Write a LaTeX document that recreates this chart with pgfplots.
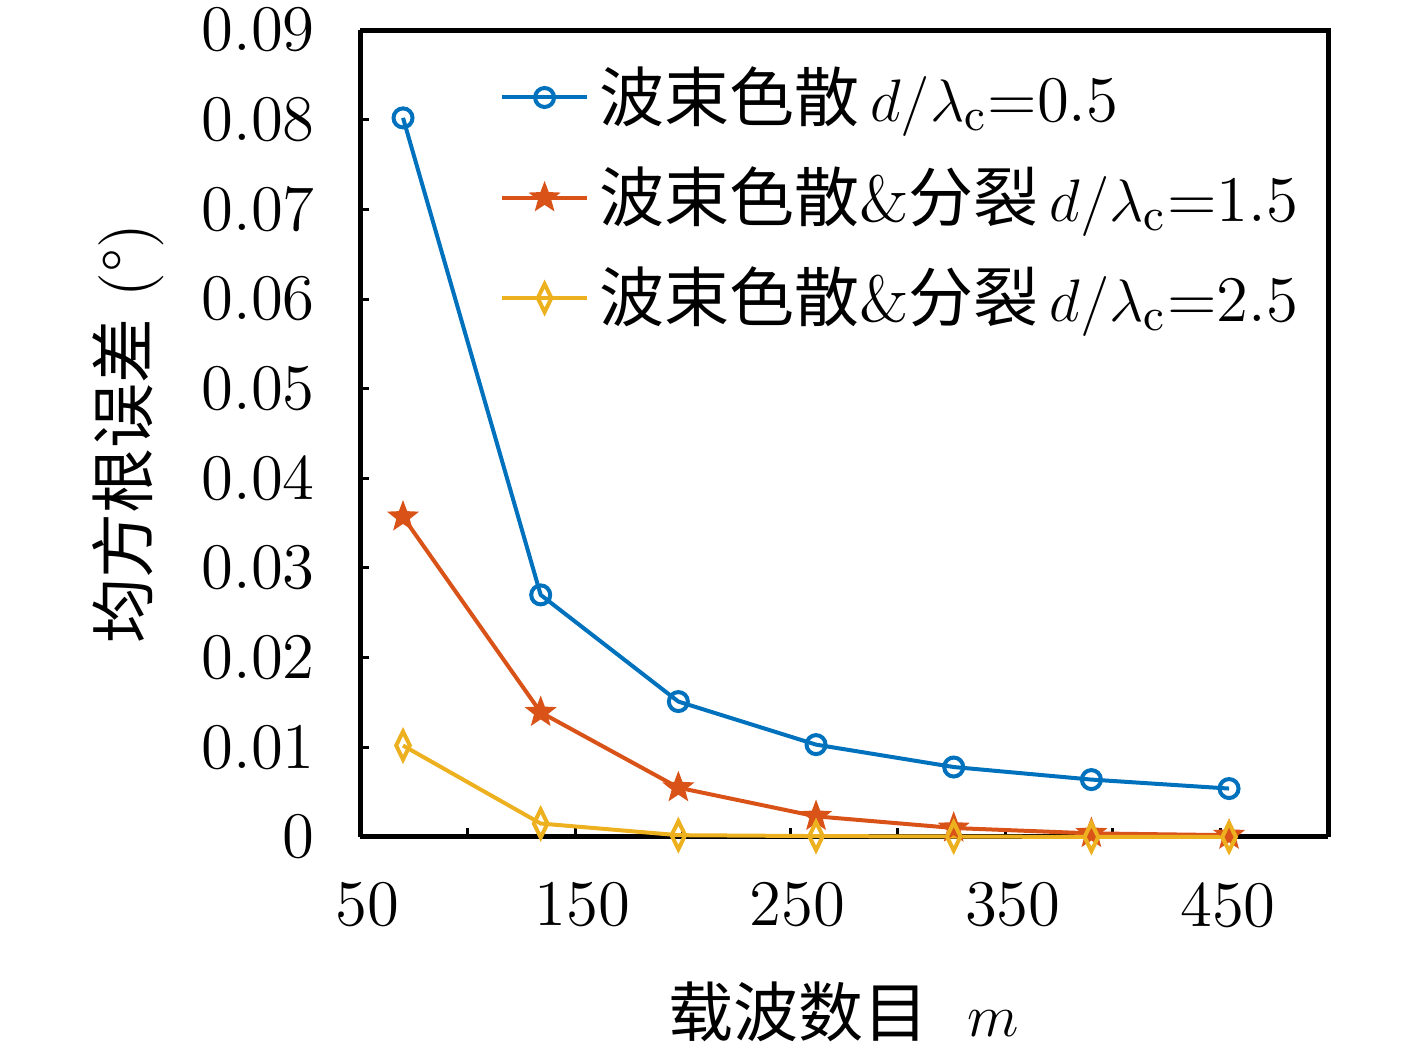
\documentclass[border=0pt]{standalone}
\usepackage{fontspec}
\usepackage{pgfplots}
\pgfplotsset{compat=1.18}
\newfontfamily\cjk{Noto Sans CJK SC}
\definecolor{mblue}{HTML}{0072BD}
\definecolor{mred}{HTML}{D95319}
\definecolor{myellow}{HTML}{EDB120}
\pgfdeclareplotmark{fstar}{%
  \pgfpathmoveto{\pgfpointpolar{90}{1\pgfplotmarksize}}%
  \pgfpathlineto{\pgfpointpolar{126}{0.42\pgfplotmarksize}}%
  \pgfpathlineto{\pgfpointpolar{162}{1\pgfplotmarksize}}%
  \pgfpathlineto{\pgfpointpolar{198}{0.42\pgfplotmarksize}}%
  \pgfpathlineto{\pgfpointpolar{234}{1\pgfplotmarksize}}%
  \pgfpathlineto{\pgfpointpolar{270}{0.42\pgfplotmarksize}}%
  \pgfpathlineto{\pgfpointpolar{306}{1\pgfplotmarksize}}%
  \pgfpathlineto{\pgfpointpolar{342}{0.42\pgfplotmarksize}}%
  \pgfpathlineto{\pgfpointpolar{18}{1\pgfplotmarksize}}%
  \pgfpathlineto{\pgfpointpolar{54}{0.42\pgfplotmarksize}}%
  \pgfpathclose
  \pgfusepathqfillstroke}
\newcommand{\fs}{\fontsize{13}{15.6}\selectfont}
\begin{document}
\begin{tikzpicture}
\useasboundingbox (0,0) rectangle (283.4pt,210.2pt);
\begin{axis}[
  at={(72pt,42.8pt)}, anchor=south west,
  scale only axis, width=193.6pt, height=161.4pt,
  xmin=50, xmax=500, ymin=0, ymax=0.09,
  axis line style={line width=1pt},
  xtick={50,100,...,450},
  xticklabels={50,,150,,250,,350,,450},
  ytick={0,0.01,...,0.09},
  yticklabels={0,0.01,0.02,0.03,0.04,0.05,0.06,0.07,0.08,0.09},
  scaled y ticks=false,
  axis x line*=bottom, axis y line*=left,
  tick align=inside, major tick length=1.8pt,
  tick style={line width=0.6pt,black},
  tick label style={font=\fs},
  xticklabel style={xshift=1.5pt},
  xticklabel shift=5.5pt, yticklabel shift=5.5pt,
  xlabel={{\cjk 载波数目}\hspace{0.6em}$m$},
  ylabel={{\cjk 均方根误差} (°)},
  every axis x label/.style={at={(axis description cs:0.5,0)}, anchor=center, yshift=-35pt, font=\fs},
  every axis y label/.style={at={(axis description cs:-0.2397,0.5)}, anchor=center, rotate=90, font=\fs},
  legend style={draw=none, fill=none, font=\fs, at={(axis description cs:0.128,0.981)}, anchor=north west, row sep=3.6pt},
  legend cell align=left,
  clip=false,
]
\draw[line width=1pt] (rel axis cs:0,1) -- (rel axis cs:1,1) -- (rel axis cs:1,0);
\addplot[color=mblue, line width=0.8pt, mark=o, mark size=1.9pt] coordinates {
  (70,0.0802) (134,0.0270) (198,0.0151) (262,0.0103) (326,0.0078) (390,0.0064) (454,0.0054)};
\addlegendentry{{\cjk 波束色散}\,$d/\lambda_{\mathrm{c}}$=0.5}
\addplot[color=mred, line width=0.8pt, mark=fstar, mark size=2.8pt, mark options={fill=mred, line width=0.4pt}] coordinates {
  (70,0.0357) (134,0.0139) (198,0.0055) (262,0.0023) (326,0.0010) (390,0.0004) (454,0.0002)};
\addlegendentry{{\cjk 波束色散}\&{\cjk 分裂}\,$d/\lambda_{\mathrm{c}}$=1.5}
\addplot[color=myellow, line width=0.8pt, mark=diamond, mark size=2.8pt, mark options={xscale=0.65, line width=0.8pt}] coordinates {
  (70,0.0102) (134,0.0015) (198,0.0002) (262,0.0001) (326,0.00005) (390,0.0) (454,0.0)};
\addlegendentry{{\cjk 波束色散}\&{\cjk 分裂}\,$d/\lambda_{\mathrm{c}}$=2.5}
\end{axis}
\end{tikzpicture}
\end{document}
